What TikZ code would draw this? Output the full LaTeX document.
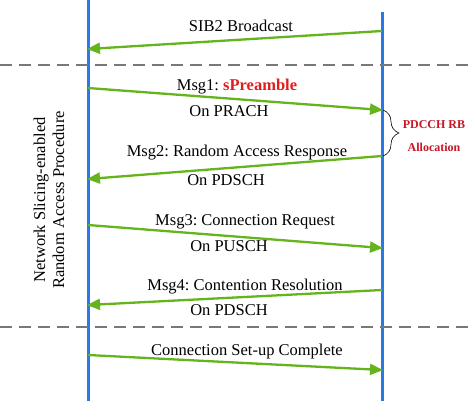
\documentclass[tikz,border=0pt]{standalone}
\usepackage{fontspec}
\setmainfont{Liberation Serif}
\usetikzlibrary{arrows.meta,decorations.pathreplacing}
\definecolor{lifeblue}{RGB}{40,120,230}
\definecolor{msggreen}{RGB}{100,180,30}
\definecolor{sepgray}{RGB}{120,120,120}
\definecolor{txtred}{RGB}{225,30,30}
\definecolor{darkred}{RGB}{200,20,35}
\tikzset{
  lifeline/.style={draw=lifeblue, line width=3pt},
  msg/.style={draw=msggreen, line width=2.3pt, -{Triangle[length=13pt,width=11pt]}, shorten >=-1pt},
  sep/.style={draw=sepgray, line width=1.3pt, dash pattern=on 12pt off 7pt},
  lbl/.style={font=\fontsize{16.5}{19}\selectfont, inner sep=0pt},
  rlbl/.style={font=\fontsize{12}{14}\selectfont\bfseries, text=darkred, inner sep=0pt},
}
\begin{document}
\frenchspacing
\begin{tikzpicture}[x=1pt,y=-1pt]
\useasboundingbox (0,0) rectangle (474,401);
% lifelines
\coordinate (Ltop) at (88,0);
\coordinate (Lbot) at (88,401);
\coordinate (Rtop) at (382,12);
\coordinate (Rbot) at (382,401);
\draw[lifeline] (Ltop) -- (Lbot);
\draw[lifeline] (Rtop) -- (Rbot);
% separators
\coordinate (s1a) at (0,65); \coordinate (s1b) at (474,65);
\coordinate (s2a) at (0,327); \coordinate (s2b) at (474,327);
\draw[sep] (s1a) -- (s1b);
\draw[sep] (s2a) -- (s2b);
% message endpoints
\coordinate (m0s) at (382,31);  \coordinate (m0e) at (88,49);
\coordinate (m1s) at (88,88);   \coordinate (m1e) at (382,110);
\coordinate (m2s) at (382,156); \coordinate (m2e) at (88,179);
\coordinate (m3s) at (88,225);  \coordinate (m3e) at (382,248);
\coordinate (m4s) at (382,290); \coordinate (m4e) at (88,305);
\coordinate (m5s) at (88,355);  \coordinate (m5e) at (382,370);
\draw[msg] (m0s) -- (m0e);
\draw[msg] (m1s) -- (m1e);
\draw[msg] (m2s) -- (m2e);
\draw[msg] (m3s) -- (m3e);
\draw[msg] (m4s) -- (m4e);
\draw[msg] (m5s) -- (m5e);
% labels
\node[lbl] (t0) at (241,26) {SIB2 Broadcast};
\node[lbl] (t1) at (237,87) {Msg1: \textcolor{txtred}{\bfseries sPreamble}};
\node[lbl] (t1b) at (229,111) {On PRACH};
\node[lbl] (t2) at (237,153) {Msg2: Random Access Response};
\node[lbl] (t2b) at (226,180) {On PDSCH};
\node[lbl] (t3) at (245,222) {Msg3: Connection Request};
\node[lbl] (t3b) at (229,246) {On PUSCH};
\node[lbl] (t4) at (245,287) {Msg4: Contention Resolution};
\node[lbl] (t4b) at (229,310) {On PDSCH};
\node[lbl] (t5) at (247,352) {Connection Set-up Complete};
% brace
\coordinate (b1) at (383,110);
\coordinate (b2) at (383,156);
\draw[black, line width=0.6pt, decorate, decoration={brace, amplitude=16pt}] (b1) -- (b2);
\node[rlbl] (r1) at (434,125) {PDCCH RB};
\node[rlbl] (r2) at (434,147) {Allocation};
% side label
\node[lbl, rotate=90, align=center] (side) at (49,200) {Network Slicing-enabled\\Random Access Procedure};
\end{tikzpicture}
\end{document}
